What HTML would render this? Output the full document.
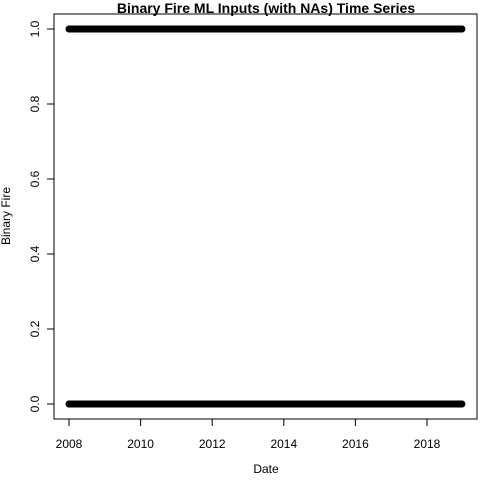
<!DOCTYPE html>
<html><head><meta charset="utf-8"><style>
html,body{margin:0;padding:0;background:#fff;}
svg{display:block;font-family:"Liberation Sans",sans-serif;}
</style></head><body>
<svg id="chart" width="480" height="480" viewBox="0 0 480 480">
<rect x="0" y="0" width="480" height="480" fill="#fff"/>
<text x="266" y="13" text-anchor="middle" font-size="14" font-weight="bold">Binary Fire ML Inputs (with NAs) Time Series</text>
<rect x="54" y="14" width="423" height="405" fill="none" stroke="#000" stroke-width="1"/>
<g id="points"></g>
<g id="xaxis"></g>
<g id="yaxis"></g>
<text x="266" y="473" text-anchor="middle" font-size="12">Date</text>
<text transform="translate(10,216) rotate(-90)" text-anchor="middle" font-size="12">Binary Fire</text>
</svg>
<script>
const xTicks = [2008, 2010, 2012, 2014, 2016, 2018];
const yTicks = [0, 0.2, 0.4, 0.6, 0.8, 1.0];
const yTickLabels = ["0.0", "0.2", "0.4", "0.6", "0.8", "1.0"];
const seriesLevels = [0, 1];
const seriesStart = [2008.0, 2008.0];
const seriesEnd = [2018.98, 2018.98];
const zeroGaps = [2008.3, 2008.65, 2008.7, 2009.4, 2009.65, 2010.25, 2010.7, 2010.78, 2010.82, 2011.72, 2011.75, 2012.4, 2012.6, 2015.6, 2017.7, 2018.55];
const oneGaps = [];

const NS = "http://www.w3.org/2000/svg";
function xs(v){ return 69 + (v - 2008) * 35.8; }
function ys(v){ return 404 - v * 375; }

const pts = document.getElementById('points');
seriesLevels.forEach((lvl, si) => {
  const gaps = si === 0 ? zeroGaps : oneGaps;
  for (let d = seriesStart[si]; d <= seriesEnd[si] + 1e-9; d += 1/120) {
    if (gaps.some(g => Math.abs(g - d) < 0.012)) continue;
    const c = document.createElementNS(NS, 'circle');
    c.setAttribute('cx', xs(d).toFixed(2));
    c.setAttribute('cy', ys(lvl));
    c.setAttribute('r', 3);
    c.setAttribute('fill', 'none');
    c.setAttribute('stroke', '#000');
    c.setAttribute('stroke-width', 1);
    
    
    pts.appendChild(c);
  }
});

const xa = document.getElementById('xaxis');
const xl = document.createElementNS(NS, 'line');
xl.setAttribute('x1', xs(xTicks[0])); xl.setAttribute('x2', xs(xTicks[xTicks.length-1]));
xl.setAttribute('y1', 419); xl.setAttribute('y2', 419); xl.setAttribute('stroke', '#000');


xa.appendChild(xl);
xTicks.forEach(t => {
  const l = document.createElementNS(NS, 'line');
  l.setAttribute('x1', xs(t)); l.setAttribute('x2', xs(t));
  l.setAttribute('y1', 419); l.setAttribute('y2', 426); l.setAttribute('stroke', '#000');
  
  
  xa.appendChild(l);
  const tx = document.createElementNS(NS, 'text');
  tx.setAttribute('x', xs(t)); tx.setAttribute('y', 448);
  tx.setAttribute('text-anchor', 'middle'); tx.setAttribute('font-size', '12');
  tx.textContent = t;
  
  
  xa.appendChild(tx);
});

const ya = document.getElementById('yaxis');
const yl = document.createElementNS(NS, 'line');
yl.setAttribute('x1', 54); yl.setAttribute('x2', 54);
yl.setAttribute('y1', ys(yTicks[0])); yl.setAttribute('y2', ys(yTicks[yTicks.length-1])); yl.setAttribute('stroke', '#000');


ya.appendChild(yl);
yTicks.forEach((t, i) => {
  const l = document.createElementNS(NS, 'line');
  l.setAttribute('x1', 47); l.setAttribute('x2', 54);
  l.setAttribute('y1', ys(t)); l.setAttribute('y2', ys(t)); l.setAttribute('stroke', '#000');
  
  
  ya.appendChild(l);
  const tx = document.createElementNS(NS, 'text');
  tx.setAttribute('transform', 'translate(39,' + ys(t) + ') rotate(-90)');
  tx.setAttribute('text-anchor', 'middle'); tx.setAttribute('font-size', '12');
  tx.textContent = yTickLabels[i];
  
  
  ya.appendChild(tx);
});
</script>
</body></html>
